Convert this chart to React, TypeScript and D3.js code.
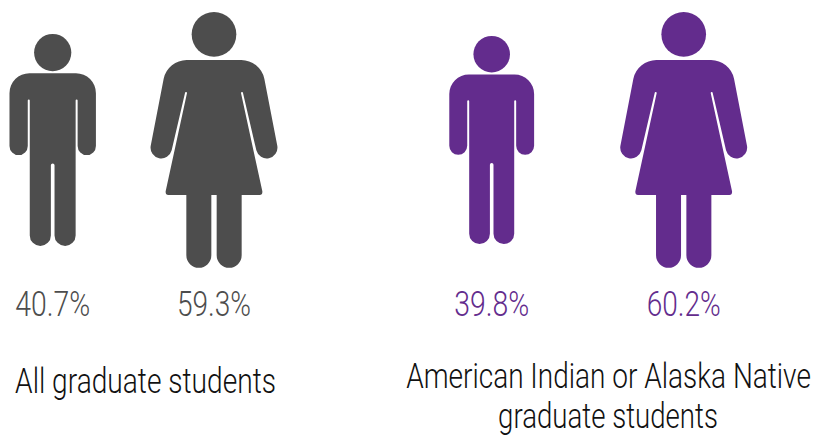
import React, { useEffect, useRef } from 'react';
import * as d3 from 'd3';

const groups = ['All graduate students', 'American Indian or Alaska Native graduate students'];
const menShare = [40.7, 39.8];
const womenShare = [59.3, 60.2];

const colors = ['#4d4d4d', '#632c8d'];
const width = 815;
const height = 436;
const font = 'Roboto, sans-serif';

// icon outlines, drawn in their own units with x=0 at the centre and y=0 at the top of the head
const manHeight = 638;
const manHead = { cy: 56, r: 56 };
const manPath =
  'M-70 118L70 118A60 60 0 0 1 130 178L130 337A27.5 27.5 0 0 1 75 337L75 200A3 3 0 0 0 69 200L69 606' +
  'A31.75 31.75 0 0 1 5.5 606L5.5 395A5.5 5.5 0 0 0 -5.5 395L-5.5 606A31.75 31.75 0 0 1 -69 606L-69 200' +
  'A3 3 0 0 0 -75 200L-75 337A27.5 27.5 0 0 1 -130 337L-130 178A60 60 0 0 1 -70 118Z';

const womanHeight = 768;
const womanHead = { cy: 67, r: 67 };
const womanPath =
  'M-82 144L82 144A72 72 0 0 1 151 200L190 402A32.2 32.2 0 0 1 127 415L87 243A3 3 0 0 0 81 243L145 538' +
  'Q146 549 137 549L83 549L83 730A37.5 37.5 0 0 1 8 730L8 549L-8 549L-8 730A37.5 37.5 0 0 1 -83 730L-83 549' +
  'L-137 549Q-146 549 -145 538L-81 243A3 3 0 0 0 -87 243L-127 415A32.2 32.2 0 0 1 -190 402L-151 200A72 72 0 0 1 -82 144Z';

const App = () => {
  const ref = useRef<SVGSVGElement>(null);

  useEffect(() => {
    const svg = d3.select(ref.current);
    svg.selectAll('*').remove();

    // icon area is proportional to the share, largest icon in each group is the full height
    const sizeScale = d3.scaleSqrt().domain([0, 1]).range([0, 256]);
    const midY = 140;

    const centers = [
      [52.7, 214],
      [491.7, 683.7],
    ];

    const drawIcon = (cx, share, groupMax, color, iconH, head, path) => {
      const h = sizeScale(share / groupMax);
      const k = h / iconH;
      const g = svg
        .append('g')
        .attr('transform', `translate(${cx},${midY - h / 2}) scale(${k})`)
        .attr('fill', color);
      g.append('circle').attr('cx', 0).attr('cy', head.cy).attr('r', head.r);
      g.append('path').attr('d', path);
    };

    // the reference face is a narrow one, so the text is squeezed to its measured width
    const addText = (txt, x, y, len, color) => {
      const t = svg
        .append('text')
        .attr('text-anchor', 'middle')
        .attr('font-family', font)
        .attr('font-size', 35)
        .attr('font-weight', 300)
        .attr('fill', color)
        .text(txt);
      const natural = t.node().getComputedTextLength();
      t.attr('transform', `translate(${x},${y}) scale(${len / natural},1)`);
    };

    groups.forEach((_, i) => {
      const groupMax = Math.max(menShare[i], womenShare[i]);
      drawIcon(centers[i][0], menShare[i], groupMax, colors[i], manHeight, manHead, manPath);
      drawIcon(centers[i][1], womenShare[i], groupMax, colors[i], womanHeight, womanHead, womanPath);
      addText(`${menShare[i].toFixed(1)}%`, centers[i][0], 316, 75, colors[i]);
      addText(`${womenShare[i].toFixed(1)}%`, centers[i][1], 316, 74, colors[i]);
    });

    addText('All graduate students', 145.5, 393, 261, '#111');
    addText('American Indian or Alaska Native', 608.5, 388, 405, '#111');
    addText('graduate students', 608, 428, 220, '#111');
  }, []);

  return (
    <svg
      ref={ref}
      width={width}
      height={height}
      viewBox={`0 0 ${width} ${height}`}
      style={{ position: 'absolute', left: 0, top: 0, background: '#fff' }}
    />
  );
};

export default App;
